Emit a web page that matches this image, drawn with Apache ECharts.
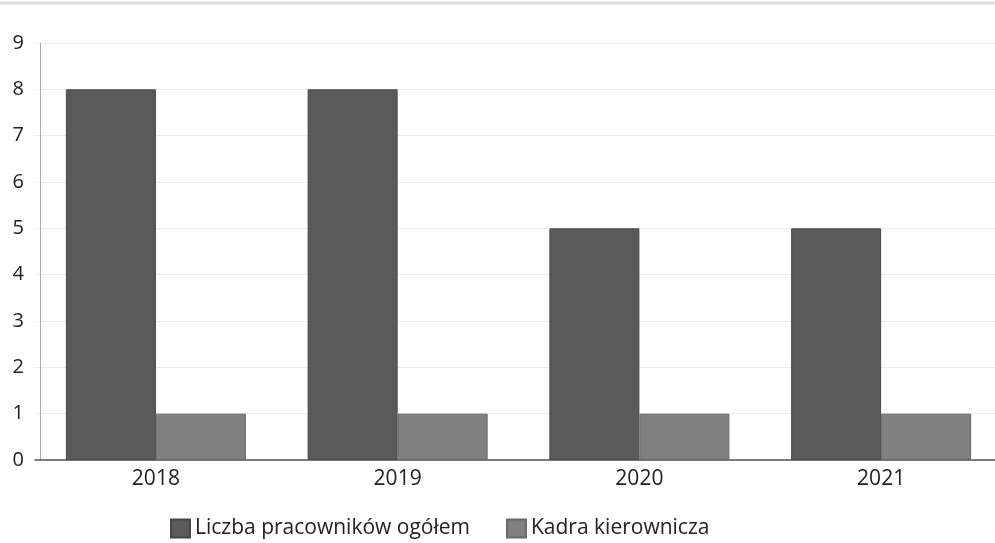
<!DOCTYPE html>
<html>
<head>
<meta charset="utf-8">
<script src="https://cdn.jsdelivr.net/npm/echarts@6/dist/echarts.min.js"></script>
<style>
  html, body { margin: 0; padding: 0; background: #fff; overflow: hidden; }
  #chart { width: 1002px; height: 543px; }
</style>
</head>
<body>
<div id="chart"></div>
<script>
const years = ['2018', '2019', '2020', '2021'];
const totalStaff = [8, 8, 5, 5];
const management = [1, 1, 1, 1];
const yTicks = { min: 0, max: 9, interval: 1 };

const chart = echarts.init(document.getElementById('chart'));

const font = 'Open Sans';

chart.setOption({
  backgroundColor: '#fff',
  animation: false,
  graphic: [{
    type: 'line',
    shape: { x1: 0, y1: 3, x2: 1002, y2: 3 },
    style: { stroke: '#dcdcdc', lineWidth: 3 }
  }],
  // plot runs a little past the right edge of the window, as in the source
  grid: { left: 35, right: 0, top: 43, bottom: 83 },
  legend: {
    top: 513,
    left: 165,
    itemWidth: 19,
    itemHeight: 18,
    itemGap: 36,
    icon: 'rect',
    textStyle: { fontFamily: font, fontSize: 21, color: '#222' },
    data: ['Liczba pracowników ogółem', 'Kadra kierownicza']
  },
  xAxis: {
    type: 'category',
    data: years,
    axisTick: { show: false },
    axisLine: { lineStyle: { color: '#555', width: 1.5 } },
    axisLabel: { fontFamily: font, fontSize: 21, color: '#222', margin: 9 }
  },
  yAxis: {
    type: 'value',
    min: yTicks.min,
    max: yTicks.max,
    interval: yTicks.interval,
    offset: -5,
    axisLine: { show: true, lineStyle: { color: '#aaa' } },
    axisTick: { show: false },
    splitLine: { lineStyle: { color: '#ececec' } },
    axisLabel: { fontFamily: font, fontSize: 20, color: '#222', margin: 16 }
  },
  series: [
    {
      name: 'Liczba pracowników ogółem',
      type: 'bar',
      data: totalStaff,
      barWidth: 90,
      barGap: '0%',
      itemStyle: { color: '#5a5a5a', borderColor: '#474747', borderWidth: 1 }
    },
    {
      name: 'Kadra kierownicza',
      type: 'bar',
      data: management,
      barWidth: 90,
      itemStyle: { color: '#808080', borderColor: '#6a6a6a', borderWidth: 1 }
    }
  ]
});
</script>
</body>
</html>
